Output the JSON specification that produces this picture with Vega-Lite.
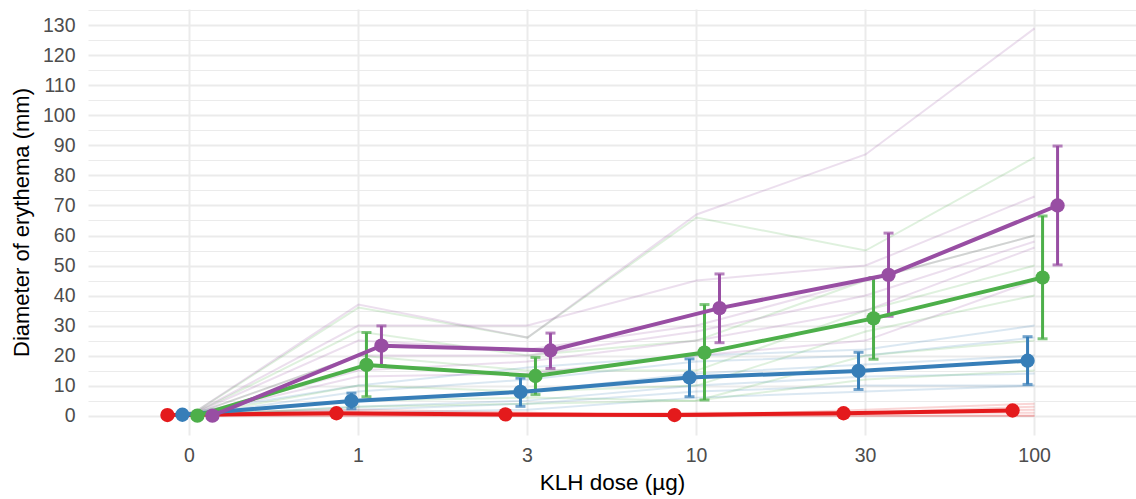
{
  "$schema": "https://vega.github.io/schema/vega-lite/v6.json",
  "width": 1048,
  "height": 426,
  "autosize": "none",
  "padding": {"left": 88, "top": 9, "right": 0, "bottom": 64},
  "background": "white",
  "config": {
    "view": {"stroke": null},
    "font": "Liberation Sans"
  },
  "datasets": {
    "subjects": [
      {"subject": "A1", "group": "A", "dose": "0", "diameter": 1}, {"subject": "A1", "group": "A", "dose": "1", "diameter": 2}, {"subject": "A1", "group": "A", "dose": "3", "diameter": 1}, {"subject": "A1", "group": "A", "dose": "10", "diameter": 0}, {"subject": "A1", "group": "A", "dose": "30", "diameter": 2}, {"subject": "A1", "group": "A", "dose": "100", "diameter": 4},
      {"subject": "A2", "group": "A", "dose": "0", "diameter": 0}, {"subject": "A2", "group": "A", "dose": "1", "diameter": 1}, {"subject": "A2", "group": "A", "dose": "3", "diameter": 1}, {"subject": "A2", "group": "A", "dose": "10", "diameter": 0}, {"subject": "A2", "group": "A", "dose": "30", "diameter": 1}, {"subject": "A2", "group": "A", "dose": "100", "diameter": 3},
      {"subject": "A3", "group": "A", "dose": "0", "diameter": 0}, {"subject": "A3", "group": "A", "dose": "1", "diameter": 1}, {"subject": "A3", "group": "A", "dose": "3", "diameter": 0}, {"subject": "A3", "group": "A", "dose": "10", "diameter": 1}, {"subject": "A3", "group": "A", "dose": "30", "diameter": 1}, {"subject": "A3", "group": "A", "dose": "100", "diameter": 2},
      {"subject": "A4", "group": "A", "dose": "0", "diameter": 0}, {"subject": "A4", "group": "A", "dose": "1", "diameter": 1}, {"subject": "A4", "group": "A", "dose": "3", "diameter": 0}, {"subject": "A4", "group": "A", "dose": "10", "diameter": 0}, {"subject": "A4", "group": "A", "dose": "30", "diameter": 1}, {"subject": "A4", "group": "A", "dose": "100", "diameter": 1},
      {"subject": "A5", "group": "A", "dose": "0", "diameter": 0}, {"subject": "A5", "group": "A", "dose": "1", "diameter": 0}, {"subject": "A5", "group": "A", "dose": "3", "diameter": 0}, {"subject": "A5", "group": "A", "dose": "10", "diameter": 0}, {"subject": "A5", "group": "A", "dose": "30", "diameter": 0}, {"subject": "A5", "group": "A", "dose": "100", "diameter": 0},
      {"subject": "A6", "group": "A", "dose": "0", "diameter": 0}, {"subject": "A6", "group": "A", "dose": "1", "diameter": 0}, {"subject": "A6", "group": "A", "dose": "3", "diameter": 0}, {"subject": "A6", "group": "A", "dose": "10", "diameter": 0}, {"subject": "A6", "group": "A", "dose": "30", "diameter": 0}, {"subject": "A6", "group": "A", "dose": "100", "diameter": 0},
      {"subject": "B1", "group": "B", "dose": "0", "diameter": 1}, {"subject": "B1", "group": "B", "dose": "1", "diameter": 10}, {"subject": "B1", "group": "B", "dose": "3", "diameter": 16}, {"subject": "B1", "group": "B", "dose": "10", "diameter": 20}, {"subject": "B1", "group": "B", "dose": "30", "diameter": 22}, {"subject": "B1", "group": "B", "dose": "100", "diameter": 30},
      {"subject": "B2", "group": "B", "dose": "0", "diameter": 0}, {"subject": "B2", "group": "B", "dose": "1", "diameter": 8}, {"subject": "B2", "group": "B", "dose": "3", "diameter": 12}, {"subject": "B2", "group": "B", "dose": "10", "diameter": 18}, {"subject": "B2", "group": "B", "dose": "30", "diameter": 20}, {"subject": "B2", "group": "B", "dose": "100", "diameter": 26},
      {"subject": "B3", "group": "B", "dose": "0", "diameter": 1}, {"subject": "B3", "group": "B", "dose": "1", "diameter": 5}, {"subject": "B3", "group": "B", "dose": "3", "diameter": 8}, {"subject": "B3", "group": "B", "dose": "10", "diameter": 14}, {"subject": "B3", "group": "B", "dose": "30", "diameter": 17}, {"subject": "B3", "group": "B", "dose": "100", "diameter": 20},
      {"subject": "B4", "group": "B", "dose": "0", "diameter": 0}, {"subject": "B4", "group": "B", "dose": "1", "diameter": 3}, {"subject": "B4", "group": "B", "dose": "3", "diameter": 5}, {"subject": "B4", "group": "B", "dose": "10", "diameter": 10}, {"subject": "B4", "group": "B", "dose": "30", "diameter": 13}, {"subject": "B4", "group": "B", "dose": "100", "diameter": 14},
      {"subject": "B5", "group": "B", "dose": "0", "diameter": 0}, {"subject": "B5", "group": "B", "dose": "1", "diameter": 2}, {"subject": "B5", "group": "B", "dose": "3", "diameter": 4}, {"subject": "B5", "group": "B", "dose": "10", "diameter": 8}, {"subject": "B5", "group": "B", "dose": "30", "diameter": 10}, {"subject": "B5", "group": "B", "dose": "100", "diameter": 10},
      {"subject": "B6", "group": "B", "dose": "0", "diameter": 0}, {"subject": "B6", "group": "B", "dose": "1", "diameter": 1}, {"subject": "B6", "group": "B", "dose": "3", "diameter": 2}, {"subject": "B6", "group": "B", "dose": "10", "diameter": 6}, {"subject": "B6", "group": "B", "dose": "30", "diameter": 8}, {"subject": "B6", "group": "B", "dose": "100", "diameter": 10},
      {"subject": "C1", "group": "C", "dose": "0", "diameter": 0}, {"subject": "C1", "group": "C", "dose": "1", "diameter": 36}, {"subject": "C1", "group": "C", "dose": "3", "diameter": 26}, {"subject": "C1", "group": "C", "dose": "10", "diameter": 66}, {"subject": "C1", "group": "C", "dose": "30", "diameter": 55}, {"subject": "C1", "group": "C", "dose": "100", "diameter": 86},
      {"subject": "C2", "group": "C", "dose": "0", "diameter": 0}, {"subject": "C2", "group": "C", "dose": "1", "diameter": 28}, {"subject": "C2", "group": "C", "dose": "3", "diameter": 20}, {"subject": "C2", "group": "C", "dose": "10", "diameter": 25}, {"subject": "C2", "group": "C", "dose": "30", "diameter": 45}, {"subject": "C2", "group": "C", "dose": "100", "diameter": 60},
      {"subject": "C3", "group": "C", "dose": "0", "diameter": 0}, {"subject": "C3", "group": "C", "dose": "1", "diameter": 20}, {"subject": "C3", "group": "C", "dose": "3", "diameter": 15}, {"subject": "C3", "group": "C", "dose": "10", "diameter": 15}, {"subject": "C3", "group": "C", "dose": "30", "diameter": 35}, {"subject": "C3", "group": "C", "dose": "100", "diameter": 50},
      {"subject": "C4", "group": "C", "dose": "0", "diameter": 0}, {"subject": "C4", "group": "C", "dose": "1", "diameter": 10}, {"subject": "C4", "group": "C", "dose": "3", "diameter": 8}, {"subject": "C4", "group": "C", "dose": "10", "diameter": 10}, {"subject": "C4", "group": "C", "dose": "30", "diameter": 28}, {"subject": "C4", "group": "C", "dose": "100", "diameter": 40},
      {"subject": "C5", "group": "C", "dose": "0", "diameter": 0}, {"subject": "C5", "group": "C", "dose": "1", "diameter": 5}, {"subject": "C5", "group": "C", "dose": "3", "diameter": 6}, {"subject": "C5", "group": "C", "dose": "10", "diameter": 5}, {"subject": "C5", "group": "C", "dose": "30", "diameter": 20}, {"subject": "C5", "group": "C", "dose": "100", "diameter": 25},
      {"subject": "C6", "group": "C", "dose": "0", "diameter": 0}, {"subject": "C6", "group": "C", "dose": "1", "diameter": 3}, {"subject": "C6", "group": "C", "dose": "3", "diameter": 4}, {"subject": "C6", "group": "C", "dose": "10", "diameter": 5}, {"subject": "C6", "group": "C", "dose": "30", "diameter": 12}, {"subject": "C6", "group": "C", "dose": "100", "diameter": 15},
      {"subject": "D1", "group": "D", "dose": "0", "diameter": 0}, {"subject": "D1", "group": "D", "dose": "1", "diameter": 37}, {"subject": "D1", "group": "D", "dose": "3", "diameter": 26}, {"subject": "D1", "group": "D", "dose": "10", "diameter": 67}, {"subject": "D1", "group": "D", "dose": "30", "diameter": 87}, {"subject": "D1", "group": "D", "dose": "100", "diameter": 129},
      {"subject": "D2", "group": "D", "dose": "0", "diameter": 0}, {"subject": "D2", "group": "D", "dose": "1", "diameter": 30}, {"subject": "D2", "group": "D", "dose": "3", "diameter": 30}, {"subject": "D2", "group": "D", "dose": "10", "diameter": 45}, {"subject": "D2", "group": "D", "dose": "30", "diameter": 50}, {"subject": "D2", "group": "D", "dose": "100", "diameter": 73},
      {"subject": "D3", "group": "D", "dose": "0", "diameter": 0}, {"subject": "D3", "group": "D", "dose": "1", "diameter": 25}, {"subject": "D3", "group": "D", "dose": "3", "diameter": 22}, {"subject": "D3", "group": "D", "dose": "10", "diameter": 30}, {"subject": "D3", "group": "D", "dose": "30", "diameter": 45}, {"subject": "D3", "group": "D", "dose": "100", "diameter": 60},
      {"subject": "D4", "group": "D", "dose": "0", "diameter": 0}, {"subject": "D4", "group": "D", "dose": "1", "diameter": 20}, {"subject": "D4", "group": "D", "dose": "3", "diameter": 20}, {"subject": "D4", "group": "D", "dose": "10", "diameter": 28}, {"subject": "D4", "group": "D", "dose": "30", "diameter": 40}, {"subject": "D4", "group": "D", "dose": "100", "diameter": 58},
      {"subject": "D5", "group": "D", "dose": "0", "diameter": 0}, {"subject": "D5", "group": "D", "dose": "1", "diameter": 15}, {"subject": "D5", "group": "D", "dose": "3", "diameter": 18}, {"subject": "D5", "group": "D", "dose": "10", "diameter": 25}, {"subject": "D5", "group": "D", "dose": "30", "diameter": 35}, {"subject": "D5", "group": "D", "dose": "100", "diameter": 56},
      {"subject": "D6", "group": "D", "dose": "0", "diameter": 0}, {"subject": "D6", "group": "D", "dose": "1", "diameter": 13}, {"subject": "D6", "group": "D", "dose": "3", "diameter": 14}, {"subject": "D6", "group": "D", "dose": "10", "diameter": 20}, {"subject": "D6", "group": "D", "dose": "30", "diameter": 25}, {"subject": "D6", "group": "D", "dose": "100", "diameter": 45}
    ],
    "summary": [
      {"group": "A", "dose": "0", "mean": 0.2, "lower": 0, "upper": 0.5},
      {"group": "A", "dose": "1", "mean": 0.8, "lower": 0.3, "upper": 1.3},
      {"group": "A", "dose": "3", "mean": 0.4, "lower": 0, "upper": 0.8},
      {"group": "A", "dose": "10", "mean": 0.2, "lower": 0, "upper": 0.5},
      {"group": "A", "dose": "30", "mean": 0.8, "lower": 0.3, "upper": 1.3},
      {"group": "A", "dose": "100", "mean": 1.7, "lower": 0.8, "upper": 2.6},
      {"group": "B", "dose": "0", "mean": 0.3, "lower": 0, "upper": 0.7},
      {"group": "B", "dose": "1", "mean": 4.9, "lower": 2.3, "upper": 7.5},
      {"group": "B", "dose": "3", "mean": 7.9, "lower": 3.1, "upper": 12.5},
      {"group": "B", "dose": "10", "mean": 12.7, "lower": 6.3, "upper": 18.9},
      {"group": "B", "dose": "30", "mean": 14.9, "lower": 8.7, "upper": 21.1},
      {"group": "B", "dose": "100", "mean": 18.3, "lower": 10.4, "upper": 26.3},
      {"group": "C", "dose": "0", "mean": 0, "lower": 0, "upper": 0},
      {"group": "C", "dose": "1", "mean": 16.9, "lower": 6.3, "upper": 27.7},
      {"group": "C", "dose": "3", "mean": 13.2, "lower": 7.0, "upper": 19.4},
      {"group": "C", "dose": "10", "mean": 21.0, "lower": 5.2, "upper": 37.0},
      {"group": "C", "dose": "30", "mean": 32.4, "lower": 18.8, "upper": 46.0},
      {"group": "C", "dose": "100", "mean": 46.0, "lower": 25.6, "upper": 66.5},
      {"group": "D", "dose": "0", "mean": 0, "lower": 0, "upper": 0},
      {"group": "D", "dose": "1", "mean": 23.3, "lower": 16.7, "upper": 29.9},
      {"group": "D", "dose": "3", "mean": 21.7, "lower": 15.7, "upper": 27.5},
      {"group": "D", "dose": "10", "mean": 35.8, "lower": 24.3, "upper": 47.2},
      {"group": "D", "dose": "30", "mean": 46.9, "lower": 33.1, "upper": 60.8},
      {"group": "D", "dose": "100", "mean": 70.0, "lower": 50.2, "upper": 89.8}
    ]
  },
  "encoding": {
    "x": {
      "field": "dose",
      "type": "ordinal",
      "sort": ["0", "1", "3", "10", "30", "100"],
      "scale": {"type": "band", "paddingInner": 0, "paddingOuter": 0.1},
      "axis": {
        "title": "KLH dose (µg)",
        "labelAngle": 0,
        "grid": true,
        "gridColor": "#EBEBEB",
        "gridWidth": 2,
        "bandPosition": 0.5,
        "ticks": false,
        "domain": false,
        "labelFontSize": 19.5,
        "labelColor": "#4D4D4D",
        "labelPadding": 11,
        "titleFontSize": 22.5,
        "titleFontWeight": "normal",
        "titleColor": "#000000",
        "titlePadding": 7
      }
    },
    "color": {
      "field": "group",
      "type": "nominal",
      "scale": {"domain": ["A", "B", "C", "D"], "range": ["#E41A1C", "#377EB8", "#4DAF4A", "#984EA3"]},
      "legend": null
    }
  },
  "resolve": {"axis": {"y": "independent"}},
  "layer": [
    {
      "data": {"name": "subjects"},
      "mark": {"type": "line", "strokeWidth": 2, "opacity": 0.18},
      "encoding": {
        "y": {
          "field": "diameter",
          "type": "quantitative",
          "scale": {"domain": [-6.45, 135.45], "nice": false, "zero": false},
          "axis": {
            "orient": "left",
            "values": [0, 5, 10, 15, 20, 25, 30, 35, 40, 45, 50, 55, 60, 65, 70, 75, 80, 85, 90, 95, 100, 105, 110, 115, 120, 125, 130, 135],
            "labelExpr": "datum.value % 10 === 0 ? datum.label : ''",
            "labelOverlap": false,
            "grid": true,
            "gridColor": "#EBEBEB",
            "gridWidth": {"condition": {"test": "datum.value % 10 === 0", "value": 2}, "value": 1},
            "ticks": false,
            "domain": false,
            "labelFontSize": 19.5,
            "labelColor": "#4D4D4D",
            "labelPadding": 13,
            "title": "Diameter of erythema (mm)",
            "titleFontSize": 22,
            "titleFontWeight": "normal",
            "titleColor": "#000000",
            "titlePadding": 9
          }
        },
        "detail": {"field": "subject"}
      }
    },
    {
      "data": {"name": "summary"},
      "mark": {"type": "rule", "strokeWidth": 3},
      "encoding": {
        "y": {"field": "lower", "type": "quantitative", "scale": {"domain": [-6.45, 135.45], "nice": false, "zero": false}, "axis": null},
        "y2": {"field": "upper"},
        "xOffset": {"field": "group", "type": "nominal", "scale": {"type": "point", "domain": ["A", "B", "C", "D"], "range": [62.5, 107.5], "padding": 0}}
      }
    },
    {
      "data": {"name": "summary"},
      "mark": {"type": "tick", "size": 10, "thickness": 3, "orient": "horizontal"},
      "encoding": {
        "y": {"field": "lower", "type": "quantitative", "scale": {"domain": [-6.45, 135.45], "nice": false, "zero": false}, "axis": null},
        "xOffset": {"field": "group", "type": "nominal", "scale": {"type": "point", "domain": ["A", "B", "C", "D"], "range": [62.5, 107.5], "padding": 0}}
      }
    },
    {
      "data": {"name": "summary"},
      "mark": {"type": "tick", "size": 10, "thickness": 3, "orient": "horizontal"},
      "encoding": {
        "y": {"field": "upper", "type": "quantitative", "scale": {"domain": [-6.45, 135.45], "nice": false, "zero": false}, "axis": null},
        "xOffset": {"field": "group", "type": "nominal", "scale": {"type": "point", "domain": ["A", "B", "C", "D"], "range": [62.5, 107.5], "padding": 0}}
      }
    },
    {
      "data": {"name": "summary"},
      "mark": {"type": "line", "strokeWidth": 4},
      "encoding": {
        "y": {"field": "mean", "type": "quantitative", "scale": {"domain": [-6.45, 135.45], "nice": false, "zero": false}, "axis": null},
        "xOffset": {"field": "group", "type": "nominal", "scale": {"type": "point", "domain": ["A", "B", "C", "D"], "range": [62.5, 107.5], "padding": 0}}
      }
    },
    {
      "data": {"name": "summary"},
      "mark": {"type": "circle", "size": 205, "opacity": 1},
      "encoding": {
        "y": {"field": "mean", "type": "quantitative", "scale": {"domain": [-6.45, 135.45], "nice": false, "zero": false}, "axis": null},
        "xOffset": {"field": "group", "type": "nominal", "scale": {"type": "point", "domain": ["A", "B", "C", "D"], "range": [62.5, 107.5], "padding": 0}}
      }
    }
  ]
}
